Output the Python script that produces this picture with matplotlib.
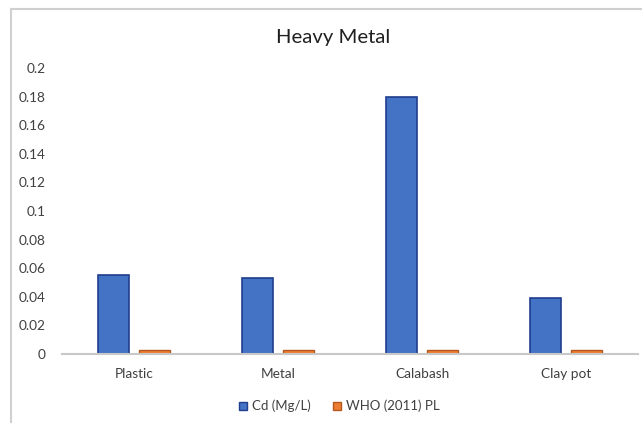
import matplotlib.pyplot as plt
import numpy as np
from matplotlib.lines import Line2D

plt.rcParams['font.family'] = ['Lato', 'DejaVu Sans']

containers = ['Plastic', 'Metal', 'Calabash', 'Clay pot']
cd_values = [0.055, 0.053, 0.18, 0.039]
who_limit = [0.003, 0.003, 0.003, 0.003]
yticks = [0, 0.02, 0.04, 0.06, 0.08, 0.1, 0.12, 0.14, 0.16, 0.18, 0.2]
ytick_labels = ['0', '0.02', '0.04', '0.06', '0.08', '0.1', '0.12', '0.14', '0.16', '0.18', '0.2']

blue = '#4472C4'
orange = '#ED7D31'

fig = plt.figure(figsize=(6.42, 4.23), dpi=100)
ax = fig.add_axes([62/642, 1-354/423, 576/642, (354-68)/423])

x = np.arange(len(containers))
w = 0.215
ax.bar(x - 0.145, cd_values, w, color=blue, edgecolor='#1F3E8C', linewidth=1.2, label='Cd (Mg/L)')
ax.bar(x + 0.145, who_limit, w, color=orange, edgecolor='#B4581E', linewidth=1.0, label='WHO (2011) PL')

ax.set_xlim(-0.5, len(containers) - 0.5)
ax.set_ylim(0, 0.2)
ax.set_yticks(yticks)
ax.set_yticklabels(ytick_labels)
ax.set_xticks(x)
ax.set_xticklabels(containers)
ax.tick_params(axis='both', length=0, labelsize=9.8, colors='#404040')
ax.tick_params(axis='y', pad=12)
ax.tick_params(axis='x', pad=10)
for side in ['top', 'right', 'left']:
    ax.spines[side].set_visible(False)
ax.spines['bottom'].set_color('#C8C8C8')
ax.spines['bottom'].set_linewidth(1.5)

fig.text(333/642, 1-37/423, 'Heavy Metal', ha='center', va='center', fontsize=14.6, color='#202020')

leg = fig.legend(handles=[
    Line2D([], [], marker='s', ls='', markersize=6, markerfacecolor=blue, markeredgecolor='#1F3E8C', label='Cd (Mg/L)'),
    Line2D([], [], marker='s', ls='', markersize=6, markerfacecolor=orange, markeredgecolor='#B4581E', label='WHO (2011) PL'),
], loc='center', bbox_to_anchor=(338/642, 1-406/423), ncol=2, frameon=False,
    fontsize=9.5, handletextpad=0.2, columnspacing=1.5, handlelength=1.0)
for t in leg.get_texts():
    t.set_color('#404040')

# chart frame edges
fig.add_artist(Line2D([11/642, 11/642], [0, 1-9/423], color='#D0D0D0', lw=1.5, transform=fig.transFigure))
fig.add_artist(Line2D([11/642, 1], [1-9/423, 1-9/423], color='#D0D0D0', lw=1.5, transform=fig.transFigure))

fig.savefig('out.png', dpi=100)
